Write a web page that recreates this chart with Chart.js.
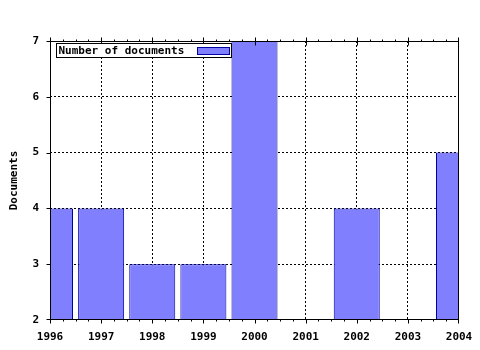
<!DOCTYPE html>
<html>
<head>
<meta charset="utf-8">
<script src="https://cdn.jsdelivr.net/npm/chart.js@4"></script>
<style>
html,body{margin:0;padding:0;background:#fff;}
#wrap{width:480px;height:350px;}
</style>
</head>
<body>
<div id="wrap"><canvas id="c" width="480" height="350"></canvas></div>
<script>
const years = ['1996','1997','1998','1999','2000','2001','2002','2003','2004'];
const documents = [4, 4, 3, 3, 7, null, 4, null, 5];
const yTicks = [2, 3, 4, 5, 6, 7];
const seriesLabel = 'Number of documents';
const yTitle = 'Documents';

const FONT = "'DejaVu Sans Mono', monospace";
const FILL = '#8080ff';
const EDGE = '#0000a0';

const axisPlugin = {
  id: 'axisBox',
  afterDatasetsDraw(chart) {
    const ctx = chart.ctx, a = chart.chartArea;
    const xs = chart.scales.x, ys = chart.scales.y;
    ctx.save();
    ctx.strokeStyle = '#000';
    ctx.lineWidth = 1;
    ctx.setLineDash([]);
    const L = Math.round(a.left) + 0.5, R = Math.round(a.right) - 0.5;
    const T = Math.round(a.top) + 0.5, B = Math.round(a.bottom) - 0.5;
    ctx.strokeRect(L, T, R - L, B - T);
    ctx.beginPath();
    for (let i = 0; i < years.length; i++) {
      let px = Math.round(xs.getPixelForValue(i)) + 0.5;
      px = Math.min(Math.max(px, L), R);
      ctx.moveTo(px, T - 4); ctx.lineTo(px, T + 4);
      ctx.moveTo(px, B); ctx.lineTo(px, B + 4);
      if (i < years.length - 1) {
        for (let k = 1; k < 4; k++) {
          const mx = Math.round(xs.getPixelForValue(i + k / 4)) + 0.5;
          ctx.moveTo(mx, T - 2); ctx.lineTo(mx, T);
          ctx.moveTo(mx, B); ctx.lineTo(mx, B + 2);
        }
      }
    }
    yTicks.forEach(v => {
      let py = Math.round(ys.getPixelForValue(v)) + 0.5;
      py = Math.min(Math.max(py, T), B);
      ctx.moveTo(L - 4, py); ctx.lineTo(L, py);
    });
    ctx.stroke();

    const ds = chart.data.datasets[0];
    const lx = L + 6, ly = T + 2;
    const lw = 175, lh = 14;
    ctx.fillStyle = '#fff';
    ctx.fillRect(lx, ly, lw, lh);
    ctx.strokeRect(lx, ly, lw, lh);
    ctx.font = 'bold 11px ' + FONT;
    ctx.fillStyle = '#000';
    ctx.textBaseline = 'middle';
    ctx.textAlign = 'left';
    ctx.fillText(ds.label, lx + 2, ly + lh / 2 + 0.5);
    ctx.fillStyle = ds.backgroundColor;
    ctx.fillRect(lx + 141, ly + 4, 32, 7);
    ctx.strokeStyle = ds.borderColor;
    ctx.strokeRect(lx + 141, ly + 4, 32, 7);
    ctx.restore();
  }
};

new Chart(document.getElementById('c'), {
  type: 'bar',
  data: {
    labels: years,
    datasets: [{
      label: seriesLabel,
      data: documents,
      backgroundColor: FILL,
      borderColor: EDGE,
      borderWidth: 1,
      borderSkipped: 'bottom',
      categoryPercentage: 0.9,
      barPercentage: 1.0
    }]
  },
  options: {
    responsive: false,
    animation: false,
    layout: { padding: { top: 41, right: 21, bottom: 0, left: 0 } },
    plugins: { legend: { display: false }, tooltip: { enabled: false } },
    scales: {
      x: {
        type: 'category',
        offset: false,
        grid: {
          color: c => (c.index === 0 || c.index === years.length - 1) ? 'rgba(0,0,0,0)' : '#000',
          lineWidth: 1, drawTicks: false, offset: false
        },
        border: { display: false, dash: [2, 2] },
        ticks: { color: '#000', font: { family: FONT, size: 11, weight: 'bold' }, padding: 11, maxRotation: 0, autoSkip: false },
        afterFit(s) { s.height = 30; s.paddingLeft = 0; s.paddingRight = 0; }
      },
      y: {
        min: 2, max: 7,
        grid: {
          color: c => (c.tick && (c.tick.value === yTicks[0] || c.tick.value === yTicks[yTicks.length - 1])) ? 'rgba(0,0,0,0)' : '#000',
          lineWidth: 1, drawTicks: false
        },
        border: { display: false, dash: [2, 2] },
        ticks: { stepSize: 1, color: '#000', font: { family: FONT, size: 11, weight: 'bold' }, padding: 11 },
        title: { display: true, text: yTitle, color: '#000', font: { family: FONT, size: 11, weight: 'bold' }, padding: { top: 8, bottom: 0 } },
        afterFit(s) { s.width = 50; }
      }
    }
  },
  plugins: [axisPlugin]
});
</script>
</body>
</html>
